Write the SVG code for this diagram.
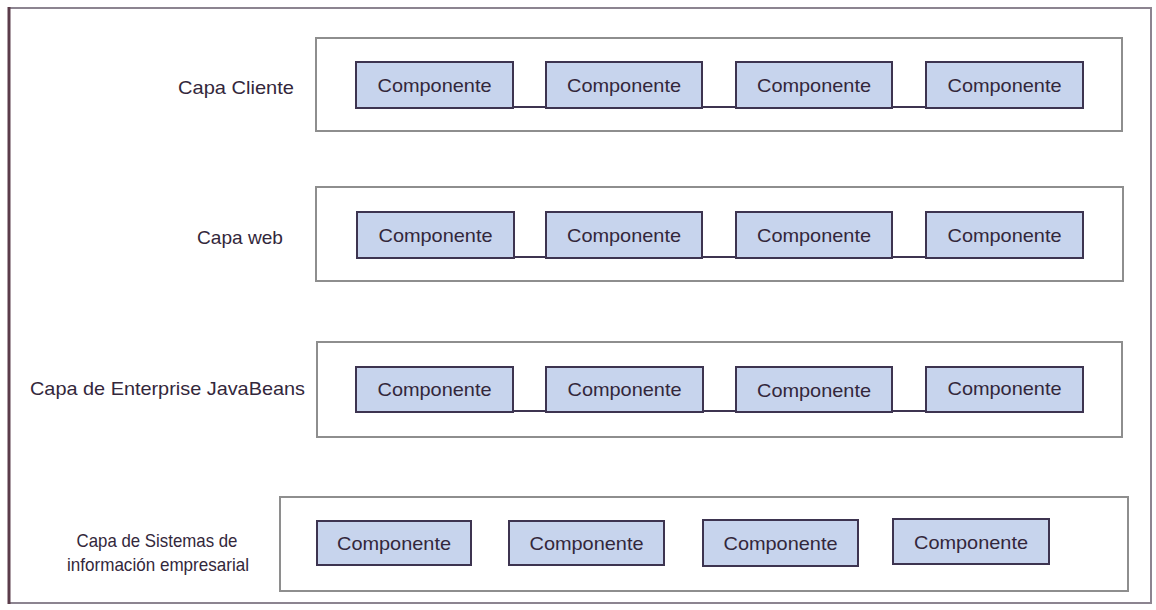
<svg xmlns="http://www.w3.org/2000/svg" width="1156" height="610" viewBox="0 0 1156 610">
  <style>
    .frame { fill: #ffffff; stroke: #8c8490; stroke-width: 2; }
    .frame-left { stroke: #5b3c4a; stroke-width: 3; }
    .layer { fill: #ffffff; stroke: #8e8e8e; stroke-width: 2; }
    .comp { fill: #c7d4ed; stroke: #3d3450; stroke-width: 2; }
    .link { stroke: #3d3450; stroke-width: 2; fill: none; }
    .label { font-family: "Liberation Sans", Arial, sans-serif; font-size: 19px; fill: #33273b; }
    .ctext { font-family: "Liberation Sans", Arial, sans-serif; font-size: 19px; fill: #33273b; text-anchor: middle; }
  </style>

  <!-- outer frame -->
  <rect x="0" y="0" width="1156" height="610" fill="#ffffff"/>
  <rect class="frame" x="9" y="8" width="1142" height="595"/>
  <line class="frame-left" x1="9" y1="7" x2="9" y2="604"/>

  <!-- layer: client -->
  <g id="capa-cliente">
    <rect class="layer" x="316" y="38" width="806" height="93"/>
    <text class="label" x="178" y="94" textLength="116" lengthAdjust="spacingAndGlyphs">Capa Cliente</text>
  </g>
  <g id="cliente-c1"><rect class="comp" x="356" y="62" width="157" height="46"/><text class="ctext" x="434.5" y="92" textLength="114" lengthAdjust="spacingAndGlyphs">Componente</text></g>
  <g id="cliente-c2"><rect class="comp" x="546" y="62" width="156" height="46"/><text class="ctext" x="624" y="92" textLength="114" lengthAdjust="spacingAndGlyphs">Componente</text></g>
  <g id="cliente-c3"><rect class="comp" x="736" y="62" width="156" height="46"/><text class="ctext" x="814" y="92" textLength="114" lengthAdjust="spacingAndGlyphs">Componente</text></g>
  <g id="cliente-c4"><rect class="comp" x="926" y="62" width="157" height="46"/><text class="ctext" x="1004.5" y="92" textLength="114" lengthAdjust="spacingAndGlyphs">Componente</text></g>

  <!-- layer: web -->
  <g id="capa-web">
    <rect class="layer" x="316" y="187" width="807" height="94"/>
    <text class="label" x="197" y="244" textLength="86" lengthAdjust="spacingAndGlyphs">Capa web</text>
  </g>
  <g id="web-c1"><rect class="comp" x="357" y="212" width="157" height="46"/><text class="ctext" x="435.5" y="242" textLength="114" lengthAdjust="spacingAndGlyphs">Componente</text></g>
  <g id="web-c2"><rect class="comp" x="546" y="212" width="156" height="46"/><text class="ctext" x="624" y="242" textLength="114" lengthAdjust="spacingAndGlyphs">Componente</text></g>
  <g id="web-c3"><rect class="comp" x="736" y="212" width="156" height="46"/><text class="ctext" x="814" y="242" textLength="114" lengthAdjust="spacingAndGlyphs">Componente</text></g>
  <g id="web-c4"><rect class="comp" x="926" y="212" width="157" height="46"/><text class="ctext" x="1004.5" y="242" textLength="114" lengthAdjust="spacingAndGlyphs">Componente</text></g>

  <!-- layer: enterprise javabeans -->
  <g id="capa-ejb">
    <rect class="layer" x="317" y="342" width="805" height="95"/>
    <text class="label" x="30" y="395" textLength="275" lengthAdjust="spacingAndGlyphs">Capa de Enterprise JavaBeans</text>
  </g>
  <g id="ejb-c1"><rect class="comp" x="356" y="367" width="157" height="45"/><text class="ctext" x="434.5" y="396" textLength="114" lengthAdjust="spacingAndGlyphs">Componente</text></g>
  <g id="ejb-c2"><rect class="comp" x="546" y="367" width="157" height="45"/><text class="ctext" x="624.5" y="396" textLength="114" lengthAdjust="spacingAndGlyphs">Componente</text></g>
  <g id="ejb-c3"><rect class="comp" x="736" y="367" width="156" height="45"/><text class="ctext" x="814" y="397" textLength="114" lengthAdjust="spacingAndGlyphs">Componente</text></g>
  <g id="ejb-c4"><rect class="comp" x="926" y="367" width="157" height="45"/><text class="ctext" x="1004.5" y="395" textLength="114" lengthAdjust="spacingAndGlyphs">Componente</text></g>

  <!-- layer: enterprise information systems -->
  <g id="capa-eis">
    <rect class="layer" x="280" y="497" width="848" height="94"/>
    <text class="label" x="157" y="547" text-anchor="middle" textLength="161" lengthAdjust="spacingAndGlyphs">Capa de Sistemas de</text>
    <text class="label" x="158" y="571" text-anchor="middle" textLength="182" lengthAdjust="spacingAndGlyphs">información empresarial</text>
  </g>
  <g id="eis-c1"><rect class="comp" x="317" y="521" width="154" height="44"/><text class="ctext" x="394" y="550" textLength="114" lengthAdjust="spacingAndGlyphs">Componente</text></g>
  <g id="eis-c2"><rect class="comp" x="509" y="521" width="155" height="44"/><text class="ctext" x="586.5" y="550" textLength="114" lengthAdjust="spacingAndGlyphs">Componente</text></g>
  <g id="eis-c3"><rect class="comp" x="703" y="520" width="155" height="46"/><text class="ctext" x="780.5" y="550" textLength="114" lengthAdjust="spacingAndGlyphs">Componente</text></g>
  <g id="eis-c4"><rect class="comp" x="893" y="519" width="156" height="45"/><text class="ctext" x="971" y="549" textLength="114" lengthAdjust="spacingAndGlyphs">Componente</text></g>

  <!-- connectors along the bottom of components -->
  <g id="connectors">
    <line class="link" x1="513" y1="107" x2="546" y2="107"/>
    <line class="link" x1="702" y1="107" x2="736" y2="107"/>
    <line class="link" x1="892" y1="107" x2="926" y2="107"/>
    <line class="link" x1="514" y1="257" x2="546" y2="257"/>
    <line class="link" x1="702" y1="257" x2="736" y2="257"/>
    <line class="link" x1="892" y1="257" x2="926" y2="257"/>
    <line class="link" x1="513" y1="411" x2="546" y2="411"/>
    <line class="link" x1="703" y1="411" x2="736" y2="411"/>
    <line class="link" x1="892" y1="411" x2="926" y2="411"/>
  </g>
</svg>
